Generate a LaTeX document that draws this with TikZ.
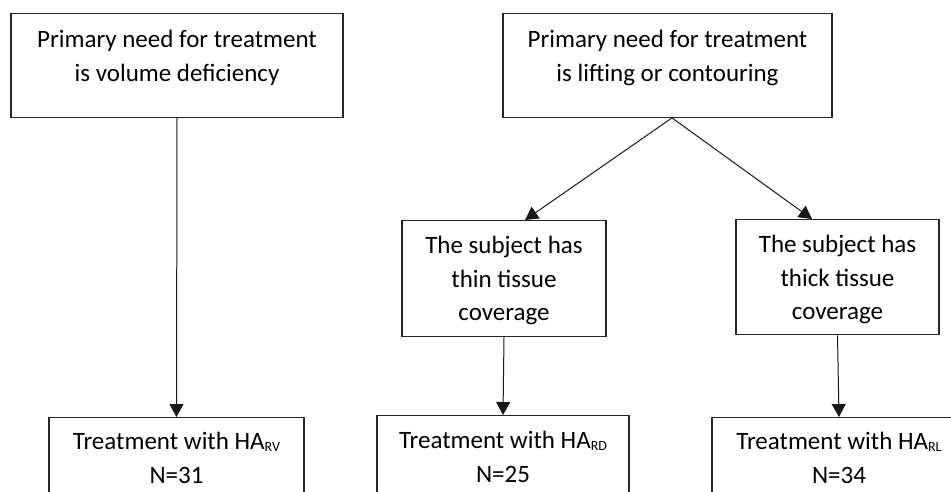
\documentclass[tikz,border=0pt]{standalone}
\usepackage{fontspec}
\setmainfont{Carlito}
\usetikzlibrary{arrows.meta}

% small lowered index after HA
\newcommand{\hasub}[1]{\raisebox{-1.5pt}{\fontsize{14}{14}\selectfont #1}}

\tikzset{
  box/.style={draw=black!85, line width=1.4pt, align=center, anchor=north,
    inner xsep=0pt, inner ysep=0pt,
    font=\fontsize{25}{33.5}\selectfont},
  link/.style={draw=black!90, line width=1pt, -{Triangle[length=13pt,width=14pt]}},
}

\begin{document}
\begin{tikzpicture}[x=1pt,y=-1pt]

% Frame of the page
\path[use as bounding box, clip] (0,0) rectangle (951,491);

% Top row
\node[box, minimum width=332pt, text height=67.5pt, text depth=36pt] (volume) at (177,13)
  {Primary need for treatment\\is volume deficiency};
\node[box, minimum width=329pt, text height=67.5pt, text depth=36pt] (lifting) at (667.5,13)
  {Primary need for treatment\\is lifting or contouring};

% Middle row
\node[box, minimum width=204pt, text height=100pt, text depth=16pt] (thin) at (504,220)
  {The subject has\\thin tissue\\coverage};
\node[box, minimum width=203pt, text height=100pt, text depth=15pt] (thick) at (837.5,219)
  {The subject has\\thick tissue\\coverage};

% Bottom row
\node[box, minimum width=255pt, text height=65.5pt, text depth=40pt] (rv) at (176.5,417)
  {Treatment with HA\hasub{RV}\\N=31};
\node[box, minimum width=252pt, text height=66.5pt, text depth=40pt] (rd) at (503,415)
  {Treatment with HA\hasub{RD}\\N=25};
\node[box, minimum width=254pt, text height=65.5pt, text depth=40pt] (rl) at (839,417)
  {Treatment with HA\hasub{RL}\\N=34};

% Arrows
\draw[link] (volume.south) -- (rv.north);
\draw[link] ([xshift=4.5pt]lifting.south) -- ([xshift=21pt]thin.north);
\draw[link] ([xshift=4.5pt]lifting.south) -- ([xshift=-25.5pt]thick.north);
\draw[link] (thin.south) -- (rd.north);
\draw[link] (thick.south) -- (rl.north);

\end{tikzpicture}
\end{document}
